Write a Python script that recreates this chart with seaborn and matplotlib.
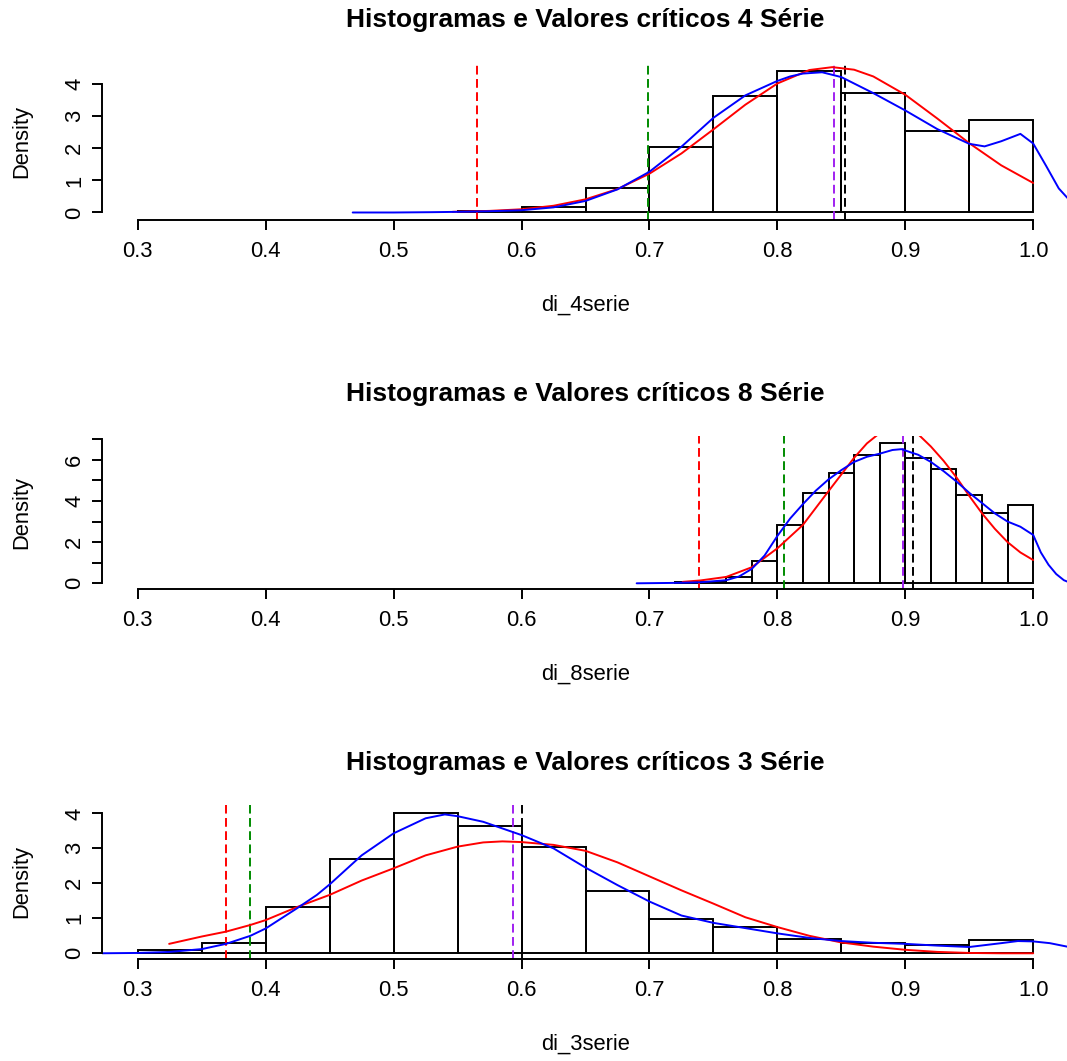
import matplotlib
matplotlib.use("Agg")
import matplotlib.pyplot as plt
import seaborn as sns

# ---------------- data ----------------
titles = ["Histogramas e Valores críticos 4 Série",
          "Histogramas e Valores críticos 8 Série",
          "Histogramas e Valores críticos 3 Série"]
xlabels = ["di_4serie", "di_8serie", "di_3serie"]
xticks = [0.3, 0.4, 0.5, 0.6, 0.7, 0.8, 0.9, 1.0]

# 4 serie
edges_4 = [0.55, 0.60, 0.65, 0.70, 0.75, 0.80, 0.85, 0.90, 0.95, 1.00]
dens_4 = [0.05, 0.18, 0.76, 2.05, 3.62, 4.40, 3.72, 2.53, 2.89]
kde_x_4 = [0.468, 0.50, 0.53, 0.55, 0.575, 0.60, 0.625, 0.65, 0.675, 0.70,
           0.725, 0.75, 0.775, 0.79, 0.80, 0.81, 0.82, 0.835, 0.85, 0.875,
           0.90, 0.925, 0.95, 0.962, 0.975, 0.99, 1.00, 1.01, 1.02, 1.028]
kde_y_4 = [0.0, 0.0, 0.01, 0.02, 0.04, 0.07, 0.16, 0.36, 0.72, 1.27,
           2.05, 2.95, 3.65, 3.92, 4.10, 4.24, 4.33, 4.37, 4.22, 3.72,
           3.18, 2.60, 2.14, 2.06, 2.22, 2.45, 2.15, 1.46, 0.75, 0.40]
fit_x_4 = [0.546, 0.575, 0.60, 0.625, 0.65, 0.675, 0.70, 0.725, 0.75, 0.775,
           0.80, 0.825, 0.843, 0.86, 0.875, 0.90, 0.925, 0.95, 0.975, 1.00]
fit_y_4 = [0.02, 0.05, 0.10, 0.21, 0.41, 0.73, 1.21, 1.84, 2.59, 3.36,
           4.02, 4.44, 4.53, 4.45, 4.24, 3.67, 2.93, 2.16, 1.47, 0.92]
crit_4 = [0.565, 0.699, 0.844, 0.853]

# 8 serie
edges_8 = [0.72, 0.74, 0.76, 0.78, 0.80, 0.82, 0.84, 0.86, 0.88, 0.90,
           0.92, 0.94, 0.96, 0.98, 1.00]
dens_8 = [0.06, 0.08, 0.29, 1.08, 2.83, 4.40, 5.37, 6.23, 6.83, 6.07,
          5.55, 4.29, 3.43, 3.80]
kde_x_8 = [0.69, 0.72, 0.74, 0.76, 0.77, 0.78, 0.79, 0.80, 0.81, 0.82,
           0.83, 0.84, 0.85, 0.86, 0.87, 0.88, 0.89, 0.897, 0.905, 0.91,
           0.92, 0.93, 0.94, 0.95, 0.96, 0.97, 0.98, 0.99, 1.00, 1.006,
           1.012, 1.018, 1.024, 1.028]
kde_y_8 = [0.0, 0.02, 0.05, 0.15, 0.33, 0.70, 1.35, 2.30, 3.15, 3.85,
           4.50, 5.05, 5.50, 5.90, 6.15, 6.30, 6.48, 6.52, 6.35, 6.25,
           5.90, 5.45, 4.95, 4.40, 3.90, 3.40, 3.00, 2.75, 2.35, 1.50,
           0.90, 0.45, 0.15, 0.05]
fit_x_8 = [0.726, 0.74, 0.76, 0.78, 0.80, 0.82, 0.84, 0.86, 0.87, 0.88,
           0.894, 0.91, 0.92, 0.93, 0.94, 0.95, 0.96, 0.97, 0.98, 0.99, 1.00]
fit_y_8 = [0.07, 0.14, 0.31, 0.78, 1.70, 2.84, 4.48, 6.10, 6.80, 7.30,
           7.53, 7.25, 6.65, 5.95, 5.15, 4.25, 3.40, 2.65, 2.00, 1.50, 1.13]
crit_8 = [0.739, 0.805, 0.898, 0.906]

# 3 serie
edges_3 = [0.30, 0.35, 0.40, 0.45, 0.50, 0.55, 0.60, 0.65, 0.70, 0.75,
           0.80, 0.85, 0.90, 0.95, 1.00]
dens_3 = [0.10, 0.29, 1.31, 2.69, 4.00, 3.64, 3.03, 1.78, 0.97, 0.74,
          0.40, 0.29, 0.23, 0.38]
kde_x_3 = [0.27, 0.30, 0.325, 0.35, 0.369, 0.388, 0.40, 0.425, 0.44, 0.45,
           0.475, 0.50, 0.525, 0.54, 0.55, 0.57, 0.60, 0.625, 0.65, 0.675,
           0.70, 0.725, 0.75, 0.775, 0.80, 0.825, 0.85, 0.875, 0.90, 0.925,
           0.95, 0.975, 0.988, 1.00, 1.013, 1.028]
kde_y_3 = [0.0, 0.01, 0.04, 0.12, 0.27, 0.50, 0.71, 1.30, 1.67, 1.97,
           2.80, 3.43, 3.86, 3.97, 3.92, 3.76, 3.38, 3.00, 2.45, 1.95,
           1.48, 1.08, 0.87, 0.72, 0.57, 0.44, 0.35, 0.30, 0.27, 0.22,
           0.18, 0.29, 0.35, 0.34, 0.29, 0.18]
fit_x_3 = [0.3245, 0.35, 0.369, 0.388, 0.40, 0.425, 0.45, 0.475, 0.50, 0.525,
           0.55, 0.57, 0.585, 0.60, 0.625, 0.65, 0.675, 0.70, 0.725, 0.75,
           0.775, 0.80, 0.825, 0.85, 0.875, 0.90, 0.925, 0.95, 0.975, 1.00]
fit_y_3 = [0.27, 0.48, 0.62, 0.81, 0.95, 1.33, 1.67, 2.08, 2.43, 2.80,
           3.05, 3.17, 3.20, 3.18, 3.10, 2.93, 2.60, 2.20, 1.80, 1.42,
           1.03, 0.75, 0.50, 0.31, 0.19, 0.10, 0.04, 0.01, 0.0, 0.0]
crit_3 = [0.369, 0.388, 0.593, 0.6005]

yticks_4 = [0, 1, 2, 3, 4]
yticks_8 = [0, 1, 2, 3, 4, 5, 6, 7]
yticks_3 = [0, 1, 2, 3, 4]

# ---------------- drawing ----------------
sns.set_style("white")
plt.rcParams['font.family'] = ['Liberation Sans', 'DejaVu Sans']
plt.rcParams['text.color'] = 'black'
plt.rcParams['axes.labelcolor'] = 'black'

W, H = 1067, 1061
fig = plt.figure(figsize=(W / 100, H / 100), dpi=100)

# (top px, bottom px, ylim) for each panel
layout = [(62, 220, (-0.234, 4.69)),
          (436, 589, (-0.277, 7.16)),
          (805, 959, (-0.163, 4.24))]
panels = [
    (edges_4, dens_4, kde_x_4, kde_y_4, fit_x_4, fit_y_4, crit_4, yticks_4),
    (edges_8, dens_8, kde_x_8, kde_y_8, fit_x_8, fit_y_8, crit_8, yticks_8),
    (edges_3, dens_3, kde_x_3, kde_y_3, fit_x_3, fit_y_3, crit_3, yticks_3),
]
crit_colors = ["#FF0000", "#008B00", "#A020F0", "#000000"]
lw = 1.4
left_px, right_px = 102, 1069

for i, (edges, dens, kx, ky, fx, fy, crit, yt) in enumerate(panels):
    top, bot, ylim = layout[i]
    h = bot - top
    ax = fig.add_axes([left_px / W, 1 - bot / H, (right_px - left_px) / W, h / H])

    centers = [(a + b) / 2 for a, b in zip(edges[:-1], edges[1:])]
    sns.histplot(x=centers, weights=dens, bins=edges, stat="count",
                 fill=False, color="black", linewidth=lw, ax=ax)
    for xv, c in zip(crit, crit_colors):
        ax.axvline(xv, color=c, linewidth=lw, linestyle=(0, (4.5, 2.3)))
    sns.lineplot(x=fx, y=fy, color="#FF0000", linewidth=lw, sort=False,
                 estimator=None, ax=ax)
    sns.lineplot(x=kx, y=ky, color="#0000FF", linewidth=lw, sort=False,
                 estimator=None, ax=ax)

    ax.set_xlim(0.272, 1.028)
    ax.set_ylim(*ylim)
    ax.set_xticks(xticks)
    ax.set_xticklabels([f"{t:.1f}" for t in xticks])
    ax.set_yticks(yt)
    ax.set_yticklabels([str(t) if t % 2 == 0 or len(yt) < 6 else "" for t in yt])

    for s in ["top", "right"]:
        ax.spines[s].set_visible(False)
    ax.spines["left"].set_bounds(yt[0], yt[-1])
    ax.spines["bottom"].set_bounds(0.3, 1.0)
    for s in ["left", "bottom"]:
        ax.spines[s].set_linewidth(lw)
        ax.spines[s].set_color("black")

    ax.tick_params(axis="both", direction="out", length=7, width=lw,
                   labelsize=15.8, colors="black", bottom=True, left=True)
    ax.tick_params(axis="x", pad=8)
    ax.tick_params(axis="y", pad=5, labelrotation=90)
    for lab in ax.get_yticklabels():
        lab.set_va("center")

    ax.set_xlabel(xlabels[i], fontsize=15.8, color="black")
    ax.xaxis.label.set_va("center")
    ax.xaxis.set_label_coords(0.5, -85 / h)
    ax.set_ylabel("Density", fontsize=15.8, color="black")
    ax.yaxis.label.set_va("center")
    ax.yaxis.set_label_coords((22 - left_px) / (right_px - left_px), 0.5)

    ax.text(0.5, 1 + 42 / h, titles[i], transform=ax.transAxes,
            ha="center", va="center", fontsize=19, fontweight="bold",
            color="black")
    ax.grid(False)

fig.savefig("out.png", dpi=100)
